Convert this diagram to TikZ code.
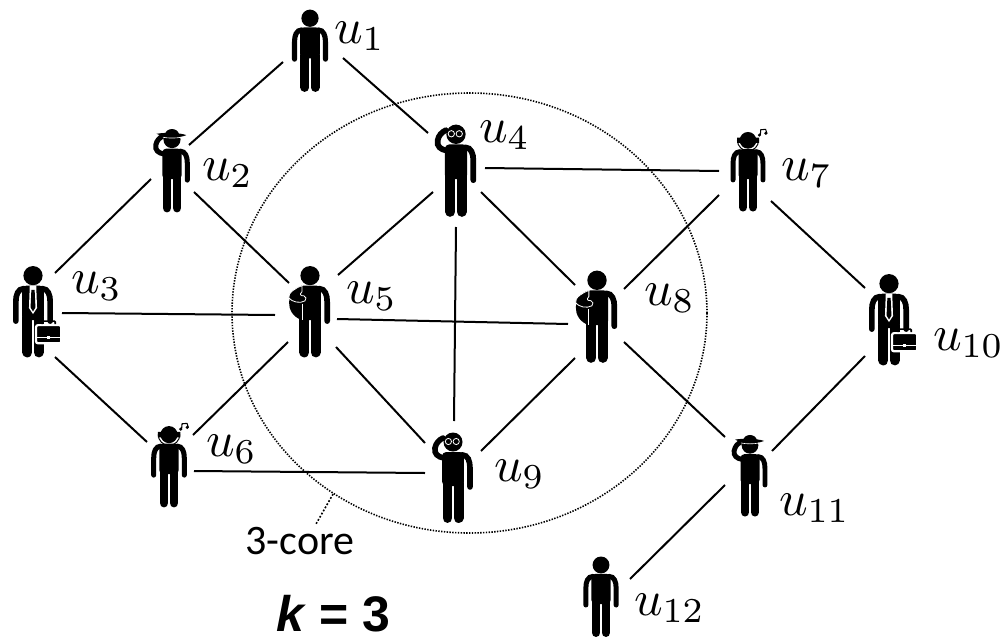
\documentclass[tikz,border=0pt]{standalone}
\usepackage{fontspec}
\usetikzlibrary{shapes.geometric}
\newfontfamily\corefont{Carlito}
\newfontfamily\kfont{Liberation Sans}

% figure parts, #1 is the figure scale (line widths do not follow scale)
\newcommand{\manhead}{\fill (0,-36) circle (9.5);}
\newcommand{\manbody}[1]{
  \fill[rounded corners=4] (-10.8,-26) rectangle (10.8,8);
  \draw[limb=9.9*#1] (-5.55,5) -- (-5.55,40);
  \draw[limb=9.9*#1] (5.55,5) -- (5.55,40);
}
\newcommand{\rightarm}[1]{\draw[limb=5.6*#1] (9,-23.2) .. controls (15,-23) and (17,-17) .. (17,-10) -- (17,9);}
\newcommand{\leftarm}[1]{\draw[limb=5.6*#1] (-9,-23.2) .. controls (-15,-23) and (-17,-17) .. (-17,-10) -- (-17,9);}
\newcommand{\raisedarm}[1]{\draw[limb=5.6*#1] (-9,-20) .. controls (-15,-21) and (-19,-24) .. (-18,-30) .. controls (-17,-35) and (-14,-38) .. (-10,-40);}

\tikzset{
  link/.style={line width=2pt},
  limb/.style={line width=#1,line cap=round},
  ulabel/.style={anchor=base west,inner sep=0pt,scale=5},
  person/.style={inner sep=0pt,minimum width=40pt,minimum height=80pt},
  plainman/.pic={\begin{scope}[scale=#1]
    \manhead \manbody{#1} \rightarm{#1} \leftarm{#1}
  \end{scope}},
  hatman/.pic={\begin{scope}[scale=#1]
    \manhead \manbody{#1} \rightarm{#1} \raisedarm{#1}
    \fill (-8,-41) .. controls (-7,-50) and (7,-50) .. (8,-41) -- cycle;
    \fill (-17,-42.5) .. controls (-8,-44) and (7,-44) .. (16,-41) .. controls (8,-37.5) and (-8,-37) .. (-17,-42.5) -- cycle;
    \draw[white,line width=.7*#1] (-10,-38.6) .. controls (-4,-37.4) and (4,-37.4) .. (10,-38.6);
  \end{scope}},
  glassman/.pic={\begin{scope}[scale=#1]
    \manhead \manbody{#1} \rightarm{#1} \raisedarm{#1}
    \draw[white,line width=.8*#1] (-4.6,-36.5) circle (3.1) (3.2,-36.5) circle (3.1);
  \end{scope}},
  caseman/.pic={\begin{scope}[scale=#1]
    \manhead \manbody{#1} \rightarm{#1} \leftarm{#1}
    \fill[white] (-3.2,-26) -- (3.2,-26) -- (4,-4) -- (0,2) -- (-4,-4) -- cycle;
    \fill (-1.6,-22) -- (1.6,-22) -- (2.4,-4.5) -- (0,-.5) -- (-2.4,-4.5) -- cycle;
    \draw[white,line width=2.2*#1,fill=black,rounded corners=2] (3,13) rectangle (28,31);
    \draw[line width=1.6*#1,rounded corners=1] (9,12) -- (9,9) -- (22,9) -- (22,12);
    \draw[white,line width=.7*#1] (3,25) -- (28,25);
    \fill[white] (14,24) rectangle (17,27);
  \end{scope}},
  packman/.pic={\begin{scope}[scale=#1]
    \manhead \manbody{#1} \rightarm{#1}
    \fill (-8,-26) .. controls (-24,-22) and (-26,2) .. (-8,8) -- cycle;
    \draw[white,line width=.8*#1] (-8,-8) -- (-8,8);
    \draw[white,line width=.8*#1,fill=black] (-8,-26) .. controls (-14,-24) and (-22,-19) .. (-21,-14)
      .. controls (-18,-10) and (-10,-8) .. (-5,-11) .. controls (-3,-13) and (-4,-15) .. (-6,-16)
      .. controls (-9,-16) and (-11,-17) .. (-8,-20) -- cycle;
  \end{scope}},
  phoneman/.pic={\begin{scope}[scale=#1]
    \manhead \manbody{#1} \rightarm{#1} \leftarm{#1}
    \draw[line width=1.1*#1] (-12,-36) arc (180:0:12);
    \fill (-12.5,-39) rectangle (-9,-33) (9,-39) rectangle (12.5,-33);
    \draw[line width=1.2*#1] (14,-42) -- (14.5,-48) -- (20,-48.5) -- (21.5,-44);
    \fill (13,-42) circle (1.9) (20.3,-44) circle (1.9);
  \end{scope}},
}

\begin{document}
\begin{tikzpicture}[x=1pt,y=-1pt]
\useasboundingbox (0,0) rectangle (1002,637);

% 3-core
\node[ellipse,draw,inner sep=0pt,line width=1.6pt,dash pattern=on 1.4pt off 1.4pt,
  minimum width=475pt,minimum height=440pt] (core) at (469.5,313) {};
\node[font=\corefont\fontsize{42}{50}\selectfont,inner sep=0pt] (corelabel) at (300,541) {3-core};
\coordinate (coreend) at (316,524);
\draw[line width=1.6pt,dash pattern=on 1.8pt off 1.8pt] (core.233) -- (coreend);

% People
\node[person] (u1) at (310,51) {};
\node[person] (u2) at (172,172) {};
\node[person] (u3) at (33,312) {};
\node[person] (u4) at (456,171) {};
\node[person] (u5) at (310,312) {};
\node[person] (u6) at (169,467) {};
\node[person] (u7) at (748,172) {};
\node[person] (u8) at (597,317) {};
\node[person] (u9) at (453,478) {};
\node[person] (u10) at (889,320) {};
\node[person] (u11) at (750,477) {};
\node[person] (u12) at (601,597) {};

\pic at (u1) {plainman=.91};
\pic at (u2) {hatman=.9};
\pic at (u3) {caseman=1.01};
\pic at (u4) {glassman=1.02};
\pic at (u5) {packman=1.01};
\pic at (u6) {phoneman=.9};
\pic at (u7) {phoneman=.88};
\pic at (u8) {packman=1.02};
\pic at (u9) {glassman=1};
\pic at (u10) {caseman=1.01};
\pic at (u11) {hatman=.88};
\pic at (u12) {plainman=.89};

% Labels
\node[ulabel] (lab1) at (333,43) {$u_1$};
\node[ulabel] (lab2) at (201,180) {$u_2$};
\node[ulabel] (lab3) at (70,293) {$u_3$};
\node[ulabel] (lab4) at (478,142) {$u_4$};
\node[ulabel] (lab5) at (345,303) {$u_5$};
\node[ulabel] (lab6) at (205,456) {$u_6$};
\node[ulabel] (lab7) at (780,180) {$u_7$};
\node[ulabel] (lab8) at (643,305) {$u_8$};
\node[ulabel] (lab9) at (493,481) {$u_9$};
\node[ulabel] (lab10) at (932,350) {$u_{10}$};
\node[ulabel] (lab11) at (778,515) {$u_{11}$};
\node[ulabel] (lab12) at (633,615) {$u_{12}$};

% Links
\draw[link] ([shift={(-27,11)}]u1.center) -- ([shift={(17,-27)}]u2.center);
\draw[link] ([shift={(33,7)}]u1.center) -- ([shift={(-28,-38)}]u4.center);
\draw[link] ([shift={(-21,7)}]u2.center) -- ([shift={(22,-39)}]u3.center);
\draw[link] ([shift={(22,20)}]u2.center) -- ([shift={(-21,-29)}]u5.center);
\draw[link] ([shift={(29,1)}]u3.center) -- ([shift={(-35,3)}]u5.center);
\draw[link] ([shift={(22,45)}]u3.center) -- ([shift={(-22,-25)}]u6.center);
\draw[link] ([shift={(-23,21)}]u4.center) -- ([shift={(28,-37)}]u5.center);
\draw[link] ([shift={(29,-3)}]u4.center) -- ([shift={(-29,-1)}]u7.center);
\draw[link] ([shift={(25,21)}]u4.center) -- ([shift={(-22,-32)}]u8.center);
\draw[link] ([shift={(0,56)}]u4.center) -- ([shift={(1,-57)}]u9.center);
\draw[link] ([shift={(-22,30)}]u5.center) -- ([shift={(24,-32)}]u6.center);
\draw[link] ([shift={(27,7)}]u5.center) -- ([shift={(-29,7)}]u8.center);
\draw[link] ([shift={(26,35)}]u5.center) -- ([shift={(-28,-35)}]u9.center);
\draw[link] ([shift={(25,4)}]u6.center) -- ([shift={(-28,-5)}]u9.center);
\draw[link] ([shift={(-29,23)}]u7.center) -- ([shift={(27,-28)}]u8.center);
\draw[link] ([shift={(23,29)}]u7.center) -- ([shift={(-24,-32)}]u10.center);
\draw[link] ([shift={(-22,41)}]u8.center) -- ([shift={(28,-27)}]u9.center);
\draw[link] ([shift={(27,25)}]u8.center) -- ([shift={(-25,-40)}]u11.center);
\draw[link] ([shift={(-24,36)}]u10.center) -- ([shift={(22,-26)}]u11.center);
\draw[link] ([shift={(-25,8)}]u11.center) -- ([shift={(29,-18)}]u12.center);

% k value
\node[anchor=base,inner sep=0pt,font=\kfont\bfseries\fontsize{50}{60}\selectfont] (kval) at (333.5,631) {\textit{k} = 3};

\end{tikzpicture}
\end{document}
